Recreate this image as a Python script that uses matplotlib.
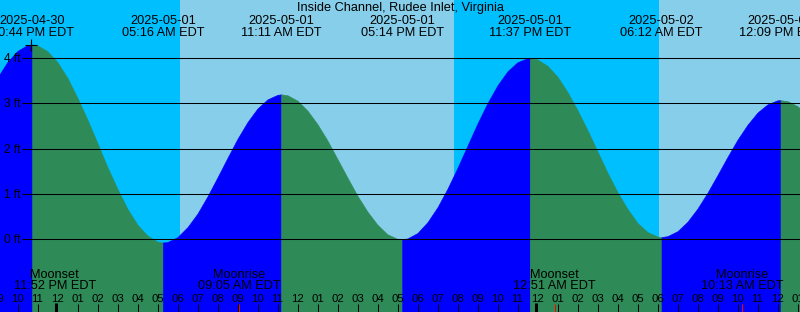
import numpy as np
import matplotlib
matplotlib.use('Agg')
import matplotlib.pyplot as plt

# time axis: hours from 2025-05-01 00:00 EDT
sample_hours = [
    -3.0, -2.5, -2.0, -1.5, -1.0, -0.5, 0.0, 0.5, 1.0, 1.5, 2.0, 2.5, 3.0, 3.5,
    4.0, 4.5, 5.0, 5.5, 6.0, 6.5, 7.0, 7.5, 8.0, 8.5, 9.0, 9.5, 10.0, 10.5,
    11.0, 11.5, 12.0, 12.5, 13.0, 13.5, 14.0, 14.5, 15.0, 15.5, 16.0, 16.5,
    17.0, 17.5, 18.0, 18.5, 19.0, 19.5, 20.0, 20.5, 21.0, 21.5, 22.0, 22.5,
    23.0, 23.5, 24.0, 24.5, 25.0, 25.5, 26.0, 26.5, 27.0, 27.5, 28.0, 28.5,
    29.0, 29.5, 30.0, 30.5, 31.0, 31.5, 32.0, 32.5, 33.0, 33.5, 34.0, 34.5,
    35.0, 35.5, 36.0, 36.5, 37.0, 37.5,
]
sample_heights = [
    3.57, 3.92, 4.16, 4.29, 4.28, 4.15, 3.91, 3.56, 3.12, 2.64, 2.12, 1.59, 1.11, 0.67,
    0.32, 0.08, -0.05, -0.06, 0.05, 0.27, 0.57, 0.95, 1.37, 1.80, 2.22, 2.59, 2.89, 3.09,
    3.19, 3.18, 3.06, 2.84, 2.54, 2.18, 1.77, 1.36, 0.96, 0.61, 0.32, 0.11,
    0.01, 0.02, 0.14, 0.38, 0.71, 1.12, 1.58, 2.07, 2.56, 3.01, 3.40, 3.71,
    3.91, 4.00, 3.97, 3.83, 3.59, 3.25, 2.85, 2.41, 1.94, 1.47, 1.04, 0.67,
    0.36, 0.16, 0.06, 0.07, 0.18, 0.39, 0.68, 1.03, 1.42, 1.82, 2.20, 2.53,
    2.80, 2.98, 3.07, 3.05, 2.94, 2.74,
]

event_hours = [-1.267, 5.267, 11.183, 17.233, 23.617, 30.2, 36.15]
event_heights = [4.3, -0.07, 3.2, 0.0, 4.0, 0.05, 3.07]
event_dates = ['2025-04-30', '2025-05-01', '2025-05-01', '2025-05-01',
               '2025-05-01', '2025-05-02', '2025-05-02']
event_times = ['10:44 PM EDT', '05:16 AM EDT', '11:11 AM EDT', '05:14 PM EDT',
               '11:37 PM EDT', '06:12 AM EDT', '12:09 PM EDT']

moon_hours = [-0.133, 9.083, 24.85, 34.217]
moon_names = ['Moonset', 'Moonrise', 'Moonset', 'Moonrise']
moon_times = ['11:52 PM EDT', '09:05 AM EDT', '12:51 AM EDT', '10:13 AM EDT']

# night / day boundaries (sunrise, sunset, sunrise)
sun_hours = [6.13, 19.83, 30.08]

hour_ticks = list(range(-3, 38))
hour_labels = ['%02d' % ((h % 12) or 12) for h in hour_ticks]
feet_levels = [0, 1, 2, 3, 4]

title = 'Inside Channel, Rudee Inlet, Virginia'

W, H = 800, 312
X0, PX_PER_HOUR = 57.5, 20.0
Y0, PX_PER_FT = 239.3, 45.3

night = '#00bfff'
day = '#87ceeb'
rise = '#0000ff'
fall = '#2e8b57'

plt.rcParams['font.family'] = ['Liberation Sans', 'DejaVu Sans']
fs = 9.2
fs_hour = 8.2
fs_feet = 8.6

fig = plt.figure(figsize=(W / 100, H / 100), dpi=100)
ax = fig.add_axes([0, 0, 1, 1])
xmin = -X0 / PX_PER_HOUR
xmax = (W - X0) / PX_PER_HOUR
ymax = Y0 / PX_PER_FT
ymin = (Y0 - H) / PX_PER_FT
ax.set_xlim(xmin, xmax)
ax.set_ylim(ymin, ymax)
ax.axis('off')


def px_x(px):
    return px / W


def px_y(py):
    return 1 - py / H


# sky background
edges = [xmin] + sun_hours + [xmax]
for i in range(len(edges) - 1):
    ax.axvspan(edges[i], edges[i + 1], color=night if i % 2 == 0 else day, lw=0, zorder=0)

# tide curve, coloured by rising / falling
pts = sorted(zip(sample_hours + event_hours, sample_heights + event_heights))
t = np.array([p[0] for p in pts])
h = np.array([p[1] for p in pts])
bounds = [t[0]] + event_hours + [t[-1]]
for i in range(len(bounds) - 1):
    m = (t >= bounds[i]) & (t <= bounds[i + 1])
    color = rise if h[m][-1] > h[m][0] else fall
    ax.fill_between(t[m], h[m], ymin, color=color, lw=0.4, edgecolor=color, zorder=1)

# foot lines and labels
ax.hlines(feet_levels, (22 - X0) / PX_PER_HOUR, xmax, color='black', lw=0.75, zorder=2)
for f in feet_levels:
    ax.text(px_x(20), f - 4 / PX_PER_FT, '%d ft' % f, transform=ax.get_yaxis_transform(),
            ha='right', va='baseline', fontsize=fs_feet, color='black', zorder=3)

ax.plot([event_hours[0] - 0.08], [event_heights[0]], marker='+', ms=9, mew=0.8,
        color='black', zorder=3)

# title and tide event labels
xt = ax.get_xaxis_transform()
ax.text(0.5, px_y(11.3), title, transform=ax.transAxes, ha='center', va='baseline', fontsize=fs)
for eh, d, tm in zip(event_hours, event_dates, event_times):
    ax.text(eh, px_y(24), d, transform=xt, ha='center', va='baseline', fontsize=fs)
    ax.text(eh, px_y(36), tm, transform=xt, ha='center', va='baseline', fontsize=fs)

# moon events
for mh, name, tm in zip(moon_hours, moon_names, moon_times):
    ax.text(mh, px_y(278), name, transform=xt, ha='center', va='baseline', fontsize=fs)
    ax.text(mh, px_y(289), tm, transform=xt, ha='center', va='baseline', fontsize=fs)
    ax.vlines(mh, px_y(312), px_y(304), transform=xt, color='red', lw=0.75, zorder=3)

# hour axis
for ht, lab in zip(hour_ticks, hour_labels):
    ax.text(ht, px_y(302), lab, transform=xt, ha='center', va='baseline', fontsize=fs_hour)
    if lab == '12' and ht % 24 == 0:
        ax.vlines(ht - 1.5 / PX_PER_HOUR, px_y(312), px_y(303), transform=xt,
                  color='black', lw=2.2, zorder=3)
    else:
        ax.vlines(ht, px_y(312), px_y(304), transform=xt, color='black', lw=0.75, zorder=3)

fig.savefig('out.png', dpi=100)
